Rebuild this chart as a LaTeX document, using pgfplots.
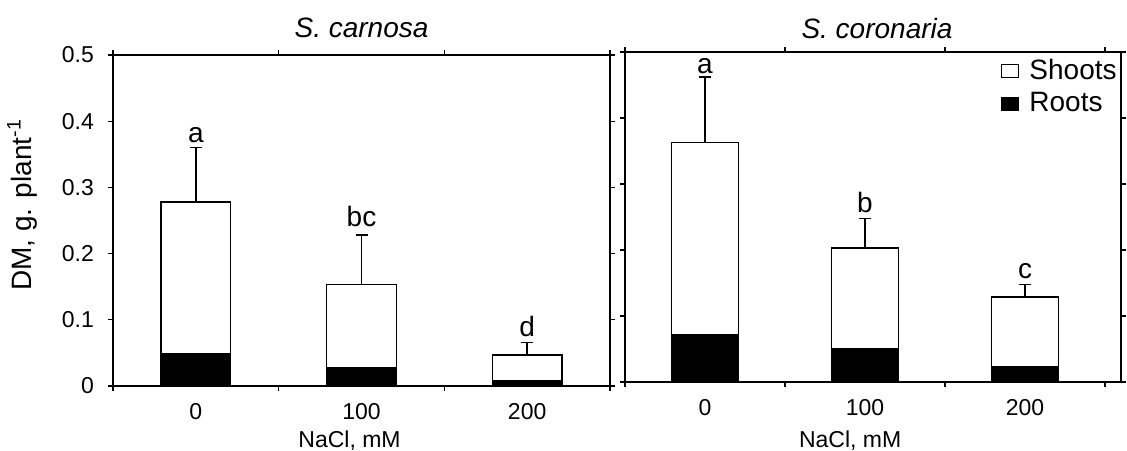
\documentclass[border=0pt]{standalone}
\usepackage{fontspec}
\setmainfont{Liberation Sans}
\usepackage{pgfplots}
\pgfplotsset{compat=1.18}

\pgfplotsset{
  panel/.style={
    scale only axis,
    ymin=0, ymax=0.5,
    ytick={0,0.1,0.2,0.3,0.4,0.5},
    xtick={0,1,2},
    xticklabels={0,100,200},
    minor xtick={-0.5,0.5,1.5,2.5},
    major x tick style={draw=none},
    tick align=outside,
    major tick length=2.5pt,
    minor tick length=2.5pt,
    tick style={black, line width=0.6pt},
    axis line style={line width=0.75pt},
    /pgf/number format/assume math mode=true,
    ticklabel style={font=\fontsize{11.5}{13}\selectfont},
    yticklabel style={xshift=-3.5pt},
    xticklabel style={anchor=base, yshift=-14pt},
    title style={font=\fontsize{14}{16}\selectfont\itshape, anchor=base, at={(0.5,1)}, yshift=3pt},
    xlabel style={font=\fontsize{11.5}{13}\selectfont, anchor=base},
    clip=false,
  },
  shoot/.style={ybar, bar width=0.42, bar shift=0pt, fill=white, draw=black, line width=0.75pt,
    error bars/.cd, y dir=plus, y explicit,
    error bar style={line width=0.75pt, black},
    error mark options={rotate=90, black, mark size=3pt, line width=0.75pt}},
  root/.style={ybar, bar width=0.42, bar shift=0pt, fill=black, draw=black, line width=0.75pt},
}

\begin{document}
\begin{tikzpicture}
\useasboundingbox (-56.5pt,-32pt) rectangle (507pt,193pt);

% Left panel: S. carnosa
\begin{axis}[panel,
  at={(0pt,0pt)}, anchor=south west,
  width=248.5pt, height=165.5pt,
  xmin=-0.5, xmax=2.5,
  title={S. carnosa},
  yticklabels={0,0.1,0.2,0.3,0.4,0.5},
  ylabel={DM, g. plant\textsuperscript{-1}},
  ylabel style={font=\fontsize{14}{16}\selectfont, at={(axis description cs:-0.183,0.547)}, anchor=center},
  xlabel={NaCl, mM},
  xlabel style={at={(axis description cs:0.476,0)}, yshift=-30.5pt},
]
\addplot[shoot] coordinates {(0,0.278) +- (0,0.082) (1,0.153) +- (0,0.075) (2,0.047) +- (0,0.019)};
\addplot[root] coordinates {(0,0.048) (1,0.027) (2,0.008)};
\node[anchor=base, font=\fontsize{14}{16}\selectfont, yshift=2.5pt] at (axis cs:0,0.360) {a};
\node[anchor=base, font=\fontsize{14}{16}\selectfont, yshift=4.5pt] at (axis cs:1,0.228) {bc};
\node[anchor=base, font=\fontsize{14}{16}\selectfont, yshift=3pt] at (axis cs:2,0.066) {d};
\end{axis}

% Right panel: S. coronaria
\begin{axis}[panel,
  at={(256pt,2pt)}, anchor=south west,
  width=248pt, height=165pt,
  xmin=-0.5, xmax=2.6,
  title={S. coronaria},
  title style={xshift=2pt, yshift=-2pt},
  yticklabels={},
  xlabel={NaCl, mM},
  xlabel style={at={(axis description cs:0.454,0)}, yshift=-32.5pt},
  legend style={draw=none, fill=none, at={(1,1)}, anchor=north east, inner sep=0pt, yshift=-1.5pt,
    font=\fontsize{14}{16}\selectfont, row sep=1pt,
    /tikz/every odd column/.append style={column sep=3pt}},
  legend cell align=left,
  legend image code/.code={\draw[#1, line width=0.6pt] (0pt,-3.25pt) rectangle (8.5pt,3.25pt);},
]
\addplot[shoot] coordinates {(0,0.363) +- (0,0.099) (1,0.203) +- (0,0.045) (2,0.129) +- (0,0.019)};
\addplot[root] coordinates {(0,0.072) (1,0.050) (2,0.023)};
\legend{Shoots, Roots}
\node[anchor=base, font=\fontsize{14}{16}\selectfont, yshift=2pt] at (axis cs:0,0.462) {a};
\node[anchor=base, font=\fontsize{14}{16}\selectfont, yshift=3pt] at (axis cs:1,0.248) {b};
\node[anchor=base, font=\fontsize{14}{16}\selectfont, yshift=3pt] at (axis cs:2,0.148) {c};
\end{axis}
\end{tikzpicture}
\end{document}
